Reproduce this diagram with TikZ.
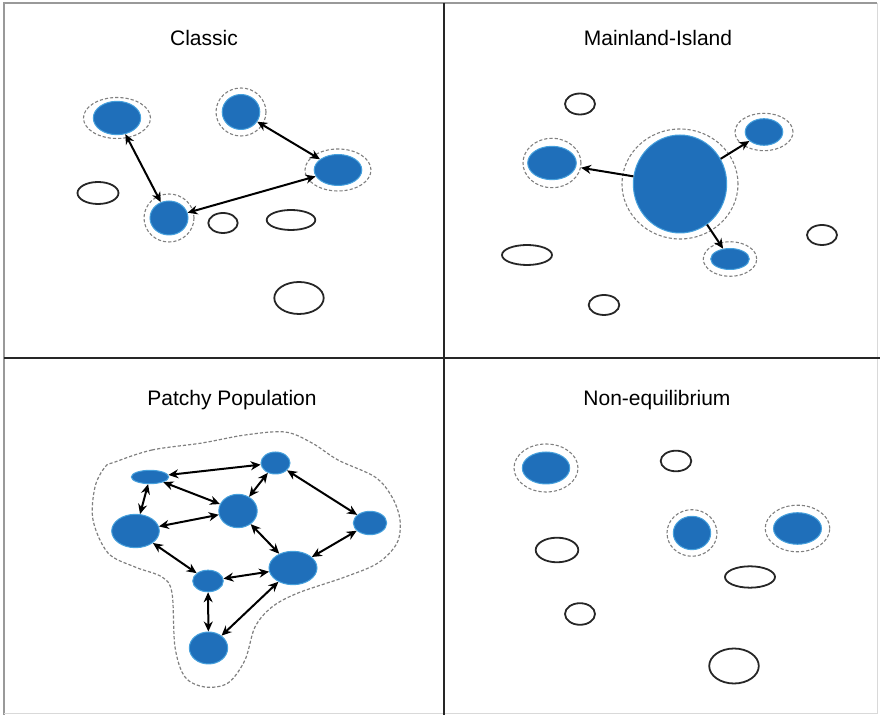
\documentclass[tikz,border=0pt]{standalone}
\usepackage{fontspec}
\setmainfont{Liberation Sans}
\usetikzlibrary{shapes.geometric,arrows.meta}
\definecolor{popblue}{RGB}{31,111,186}
\definecolor{popedge}{RGB}{70,160,220}
\tikzset{
  blob/.style 2 args={ellipse, fill=popblue, draw=popedge, line width=0.5pt, inner sep=0pt, minimum width=#1*1pt, minimum height=#2*1pt},
  ring/.style 2 args={ellipse, draw=gray, dashed, dash pattern=on 1.6pt off 1pt, line width=0.55pt, inner sep=0pt, minimum width=#1*1pt, minimum height=#2*1pt},
  patch/.style 2 args={ellipse, draw=black!85, line width=0.9pt, inner sep=0pt, minimum width=#1*1pt, minimum height=#2*1pt},
  ttl/.style={font=\fontsize{10.5}{12}\selectfont, inner sep=0pt},
  link/.style={{Stealth[length=5pt,width=4.5pt]}-{Stealth[length=5pt,width=4.5pt]}, line width=1pt, black},
  flow/.style={-{Stealth[length=5pt,width=4.5pt]}, line width=1pt, black},
  frame/.style={draw=gray!80, line width=1pt},
  divider/.style={draw=black!85, line width=1.1pt}
}
\begin{document}
\begin{tikzpicture}[x=0.5pt,y=-0.5pt]
\useasboundingbox (0,0) rectangle (880,715);
% frame
\draw[frame] (4,715) -- (4,3) -- (877,3);
\draw[draw=gray!30, line width=0.5pt] (877,3) -- (877,714) -- (4,714);
\draw[divider] (444,3) -- (444,715);
\draw[divider] (4,358) -- (880,358);

% ---------------- Classic ----------------
\node[ttl] (t1) at (204,38) {Classic};
\node[ring={33.5}{20.5}] (ra) at (117,118) {};
\node[blob={23.7}{16.7}] (a) at (117,118) {};
\node[ring={25}{24}] (rb) at (241,112) {};
\node[blob={18.8}{17.5}] (b) at (241,112) {};
\node[ring={33}{21}] (rc) at (338,170) {};
\node[blob={23.8}{15.5}] (c) at (338,170) {};
\node[ring={25}{24}] (rd) at (169,218) {};
\node[blob={19}{17}] (d) at (169,218) {};
\node[patch={20.5}{11}] (o1) at (98,193) {};
\node[patch={14.7}{10}] (o2) at (223,223) {};
\node[patch={24.3}{10}] (o3) at (291,220) {};
\node[patch={24.7}{16}] (o4) at (299,298) {};
\draw[link] (a) -- (d);
\draw[link] (d) -- (c);
\draw[link] (b) -- (c);

% ---------------- Mainland-Island ----------------
\node[ttl] (t2) at (658,38) {Mainland-Island};
\node[ring={58}{55}] (rm) at (680,184) {};
\node[blob={46.7}{49}] (m) at (680,184) {};
\node[ring={29}{24.7}] (ri1) at (552,163) {};
\node[blob={24.3}{16.7}] (i1) at (552,163) {};
\node[ring={29}{18.7}] (ri2) at (764,132) {};
\node[blob={18.8}{13.3}] (i2) at (764,132) {};
\node[ring={26.7}{17.3}] (ri3) at (730,259) {};
\node[blob={19.3}{10.5}] (i3) at (730,259) {};
\node[patch={15}{10.5}] (q1) at (580,104) {};
\node[patch={15}{10}] (q2) at (822,235) {};
\node[patch={25}{10}] (q3) at (527,255) {};
\node[patch={15.3}{10}] (q4) at (604,305) {};
\draw[flow] (m) -- (ri1);
\draw[flow] (m) -- (i2);
\draw[flow] (m) -- (i3);

% ---------------- Patchy Population ----------------
\node[ttl] (t3) at (232,400) {Patchy Population};
\draw[gray, dashed, dash pattern=on 1.6pt off 1pt, line width=0.6pt] plot[smooth cycle, tension=0.55] coordinates {
 (115,462) (152,450) (202,443) (245,435) (285,432) (312,443) (338,460) (375,477)
 (392,497) (400,520) (397,543) (378,563) (345,577) (298,593) (272,607) (255,627)
 (245,660) (228,683) (205,687) (185,677) (175,647) (172,593) (162,577) (135,567)
 (108,553) (93,520) (95,487) (105,467)};
\node[blob={18.7}{6.7}] (p1) at (150,477) {};
\node[blob={14.5}{11}] (p2) at (275.5,463) {};
\node[blob={19.2}{16.7}] (p3) at (238,511) {};
\node[blob={23.8}{16.7}] (p4) at (135.5,531) {};
\node[blob={16.7}{11.7}] (p5) at (370,523) {};
\node[blob={24}{16.7}] (p6) at (293,568) {};
\node[blob={15.3}{10.8}] (p7) at (208,581) {};
\node[blob={19.2}{16}] (p8) at (208.5,648) {};
\draw[link] (p1) -- (p2);
\draw[link] (p1) -- (p4);
\draw[link] (p1) -- (p3);
\draw[link] (p2) -- (p3);
\draw[link] (p2) -- (p5);
\draw[link] (p3) -- (p4);
\draw[link] (p3) -- (p6);
\draw[link] (p4) -- (p7);
\draw[link] (p7) -- (p6);
\draw[link] (p5) -- (p6);
\draw[link] (p7) -- (p8);
\draw[link] (p6) -- (p8);

% ---------------- Non-equilibrium ----------------
\node[ttl] (t4) at (657,400) {Non-equilibrium};
\node[ring={32}{24}] (rn1) at (546,468) {};
\node[blob={23.7}{16}] (n1) at (546,468) {};
\node[ring={25}{23.3}] (rn2) at (692,533) {};
\node[blob={18.7}{16.7}] (n2) at (692,533) {};
\node[ring={32.3}{23.3}] (rn3) at (797.5,528.5) {};
\node[blob={24}{15.8}] (n3) at (797.5,528.5) {};
\node[patch={15.3}{10.3}] (e1) at (676,461) {};
\node[patch={21.3}{12.3}] (e2) at (557,550) {};
\node[patch={25}{10.7}] (e3) at (750,577) {};
\node[patch={15}{10.8}] (e4) at (580,614) {};
\node[patch={24.8}{17.5}] (e5) at (734,666) {};
\end{tikzpicture}
\end{document}
